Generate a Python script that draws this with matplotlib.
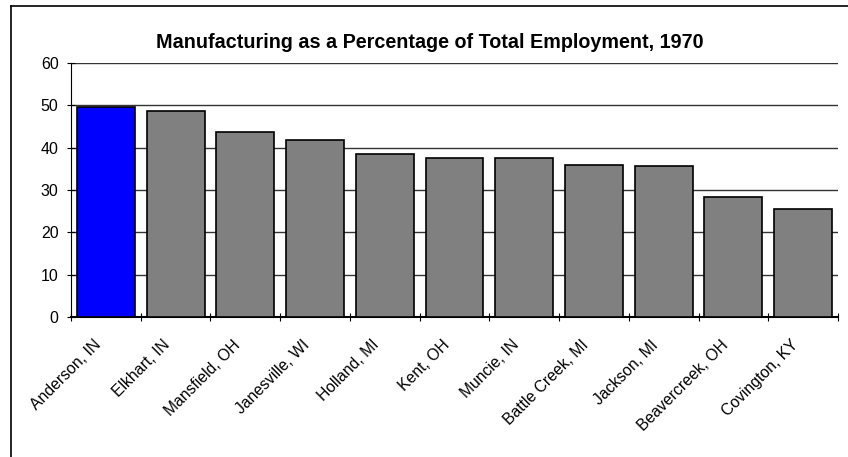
import matplotlib
matplotlib.use("Agg")
import matplotlib.pyplot as plt
from matplotlib.lines import Line2D
from matplotlib.transforms import ScaledTranslation

plt.rcParams['font.family'] = ['Liberation Sans', 'DejaVu Sans']

cities = ["Anderson, IN", "Elkhart, IN", "Mansfield, OH", "Janesville, WI", "Holland, MI",
          "Kent, OH", "Muncie, IN", "Battle Creek, MI", "Jackson, MI", "Beavercreek, OH",
          "Covington, KY"]
values = [49.7, 48.7, 43.6, 41.7, 38.5, 37.6, 37.6, 35.9, 35.6, 28.4, 25.4]
colors = ["#0000FF"] + ["#808080"] * 10
yticks = [0, 10, 20, 30, 40, 50, 60]

W, H = 848, 457
fig = plt.figure(figsize=(W / 100, H / 100), dpi=100)
ax = fig.add_axes([71 / W, 1 - 317 / H, (838 - 71) / W, (317 - 63) / H])

x = list(range(len(cities)))
ax.bar(x, values, width=0.83, color=colors, edgecolor="black", linewidth=1.2, zorder=3)
ax.set_xlim(-0.5, len(cities) - 0.5)
ax.set_ylim(0, 60)
ax.set_yticks(yticks)
ax.set_yticklabels([str(t) for t in yticks], fontsize=11.5)
ax.yaxis.grid(True, color="#333333", linewidth=1.0, zorder=0)
ax.set_axisbelow(True)

for s in ["top", "right"]:
    ax.spines[s].set_visible(False)
ax.spines["left"].set_color("black")
ax.spines["bottom"].set_color("black")
ax.spines["bottom"].set_linewidth(1.5)

ax.set_xticks([i - 0.5 for i in range(len(cities) + 1)], minor=False)
ax.set_xticklabels([])
ax.tick_params(axis="x", direction="inout", length=6, color="black")
ax.tick_params(axis="y", direction="inout", length=6, color="black", pad=6)
ax.set_xticks(x, minor=True)
ax.set_xticklabels(cities, minor=True, rotation=45, ha="right", rotation_mode="anchor", fontsize=11.3)
ax.tick_params(axis="x", which="minor", length=0, pad=6)
off = ScaledTranslation(-0.13, -0.12, fig.dpi_scale_trans)
for lab in ax.get_xticklabels(minor=True):
    lab.set_transform(lab.get_transform() + off)

fig.text(430 / W, 1 - 48 / H, "Manufacturing as a Percentage of Total Employment, 1970",
         ha="center", va="baseline", fontsize=14.2, fontweight="bold")

# outer chart border (top and left visible)
fig.add_artist(Line2D([11 / W, 11 / W], [0, 1 - 5.5 / H], color="black", linewidth=1.2,
                      transform=fig.transFigure))
fig.add_artist(Line2D([11 / W, 1], [1 - 5.5 / H, 1 - 5.5 / H], color="black", linewidth=1.2,
                      transform=fig.transFigure))

fig.savefig("out.png", dpi=100)
